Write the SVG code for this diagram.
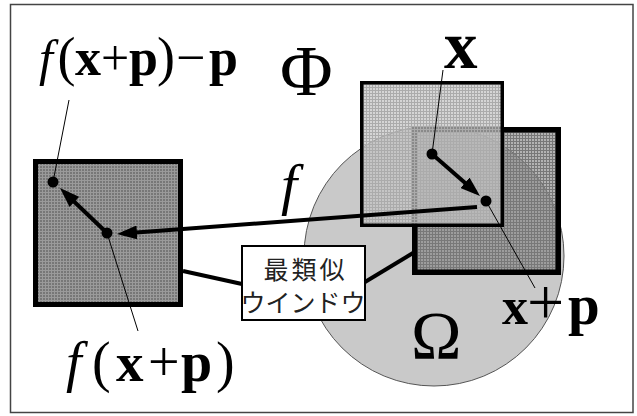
<svg xmlns="http://www.w3.org/2000/svg" width="637" height="416" viewBox="0 0 637 416">
<style>
.m{font-family:"Liberation Serif","Times New Roman",serif;fill:#000}
.b{font-weight:bold}
.i{font-style:italic}
.jp{font-family:"Noto Sans CJK JP","Noto Sans CJK SC",sans-serif;font-size:25px;fill:#222;text-anchor:middle}
.thick{stroke:#000;stroke-width:4;fill:none}
.thin{stroke:#000;stroke-width:1;fill:none}
.dot{fill:#000}
</style>
<defs>
<pattern id="pLight" width="3" height="3" patternUnits="userSpaceOnUse">
<rect width="3" height="3" fill="#c4c4c4" fill-opacity="0.7"/>
<path d="M0,0h3v1h-3z M0,1h1v2h-1z" fill="#ababab"/>
</pattern>
<pattern id="pDark" width="3" height="3" patternUnits="userSpaceOnUse">
<rect width="3" height="3" fill="#808080" fill-opacity="0.6"/>
<path d="M0,0h3v1h-3z M0,1h1v2h-1z" fill="#787878"/>
</pattern>
<pattern id="pLeft" width="3" height="3" patternUnits="userSpaceOnUse">
<rect width="3" height="3" fill="#777777"/>
<path d="M0,0h3v1h-3z M0,1h1v2h-1z" fill="#9a9a9a"/>
</pattern>
<marker id="ah" viewBox="0 0 20 14" refX="14" refY="7" markerWidth="20" markerHeight="14" markerUnits="userSpaceOnUse" orient="auto">
<path d="M0,0 L20,7 L0,14 z" fill="#000"/>
</marker>
</defs>
<rect x="0" y="0" width="637" height="416" fill="#fff"/>
<g id="frame">
<rect x="10.5" y="4.5" width="622.5" height="408" fill="#fff" stroke="#444" stroke-width="1.5"/>
</g>
<g id="region-omega">
<circle cx="434" cy="256" r="130" fill="#c9c9c9" stroke="#555" stroke-width="1"/>
</g>
<g id="window-xp">
<rect x="414.75" y="129.75" width="143.5" height="142.5" fill="url(#pDark)"/>
<rect x="414.75" y="129.75" width="143.5" height="142.5" fill="none" stroke="#000" stroke-width="5.5"/>
</g>
<g id="window-x">
<rect x="361.75" y="82.75" width="140.5" height="142.5" fill="url(#pLight)"/>
<rect x="361.75" y="82.75" width="140.5" height="142.5" fill="none" stroke="#000" stroke-width="3.5"/>
</g>
<g id="window-fxp">
<rect x="35.5" y="161.5" width="145" height="143" fill="url(#pLeft)" stroke="#000" stroke-width="5"/>
</g>
<g id="connectors">
<line class="thick" x1="432" y1="154" x2="475.5" y2="192" marker-end="url(#ah)"/>
<line class="thick" x1="477" y1="207" x2="123" y2="233.5" marker-end="url(#ah)"/>
<line class="thick" x1="107" y1="233" x2="64.3" y2="192.2" marker-end="url(#ah)"/>
<line class="thick" x1="183" y1="271" x2="242" y2="284"/>
<line class="thick" x1="365" y1="282" x2="413" y2="253"/>
<line class="thin" x1="69" y1="100" x2="53" y2="182"/>
<line class="thin" x1="443" y1="70" x2="432" y2="154"/>
<line class="thin" x1="486" y1="201" x2="535" y2="288"/>
<line class="thin" x1="107" y1="233" x2="138" y2="331"/>
</g>
<g id="points">
<circle class="dot" cx="53" cy="182" r="5.5"/>
<circle class="dot" cx="107" cy="233" r="5.5"/>
<circle class="dot" cx="432" cy="154" r="5.5"/>
<circle class="dot" cx="486" cy="201" r="5.5"/>
</g>
<g id="label-box">
<rect x="242" y="246" width="123" height="74" fill="#fff" stroke="#000" stroke-width="2"/>
<text class="jp" x="305.5" y="279" letter-spacing="3">最類似</text>
<text class="jp" x="303" y="312">ウインドウ</text>
</g>
<g id="labels">
<text class="m" y="75" font-size="52"><tspan class="i" x="39" font-size="50">f</tspan><tspan x="57.5" font-size="54">(</tspan><tspan class="b" x="75">x</tspan><tspan x="101" font-size="50">+</tspan><tspan class="b" x="129">p</tspan><tspan x="157" font-size="54">)</tspan><tspan x="176">−</tspan><tspan class="b" x="209">p</tspan></text>
<text class="m" x="280" y="95" font-size="72">Φ</text>
<text class="m b" x="444" y="68" font-size="67">x</text>
<text class="m i" x="281" y="204" font-size="58">f</text>
<text class="m" y="381" font-size="56"><tspan class="i" x="66">f</tspan><tspan x="92">(</tspan><tspan class="b" x="116" font-size="55">x</tspan><tspan x="148">+</tspan><tspan class="b" x="181">p</tspan><tspan x="216">)</tspan></text>
<text class="m" y="324" font-size="56"><tspan class="b" x="502" font-size="52">x</tspan><tspan x="527" font-size="66">+</tspan><tspan class="b" x="568" font-size="57">p</tspan></text>
<text class="m" x="411" y="358" font-size="68">Ω</text>
</g>
</svg>
